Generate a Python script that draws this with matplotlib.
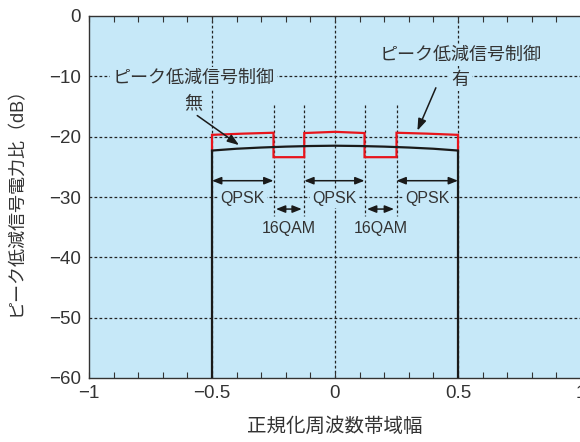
import matplotlib
matplotlib.use("Agg")
import matplotlib.pyplot as plt
from matplotlib.ticker import MultipleLocator

plt.rcParams['font.family'] = ['Liberation Sans', 'Noto Sans CJK JP', 'DejaVu Sans']
plt.rcParams['axes.unicode_minus'] = True

BG = '#c6e8f8'
TXT = '#333333'

# Band edges (normalized frequency)
band_edges = [-0.5, -0.25, -0.125, 0.12, 0.25, 0.5]

# Without peak-reduction control: smooth spectrum across the band
off_x = [-0.5, -0.5, -0.4, -0.3, -0.2, -0.1, 0.0, 0.1, 0.2, 0.3, 0.4, 0.5, 0.5]
off_y = [-60, -22.3, -22.0, -21.8, -21.65, -21.55, -21.5, -21.55, -21.65, -21.8, -22.0, -22.3, -60]

# With peak-reduction control: QPSK bands raised, 16QAM bands lowered
on_x = [-0.5, -0.5, -0.375, -0.25, -0.25, -0.125, -0.125, 0.0, 0.12, 0.12, 0.25, 0.25, 0.375, 0.5, 0.5]
on_y = [-22.3, -19.7, -19.5, -19.35, -23.4, -23.4, -19.4, -19.2, -19.4, -23.4, -23.4, -19.35, -19.5, -19.7, -22.3]

# Modulation segments
qpsk_segments = [(-0.5, -0.25), (-0.125, 0.12), (0.25, 0.5)]
qam_segments = [(-0.25, -0.125), (0.12, 0.25)]

x_ticks = [-1, -0.5, 0, 0.5, 1]
x_tick_labels = ['−1', '−0.5', '0', '0.5', '1']
y_ticks = [0, -10, -20, -30, -40, -50, -60]
y_tick_labels = ['0', '−10', '−20', '−30', '−40', '−50', '−60']

fig = plt.figure(figsize=(5.8, 4.42), dpi=100)
ax = fig.add_axes([89 / 580, 1 - 378 / 442, 492 / 580, 362 / 442])
ax.set_facecolor(BG)
ax.set_xlim(-1, 1)
ax.set_ylim(-60, 0)

# Grid
grid_kw = dict(color='#222222', lw=0.9, ls=(0, (2.2, 1.8)), zorder=1)
for yv in [-10, -20, -30, -40, -50]:
    ax.axhline(yv, **grid_kw)
for xv in [-0.5, 0, 0.5]:
    ax.axvline(xv, **grid_kw)
for xv in band_edges[1:-1]:
    ax.plot([xv, xv], [-14.8, -33.2], **grid_kw)

ax.plot(on_x, on_y, color='#e8141c', lw=1.6, zorder=3, solid_joinstyle='miter')
ax.plot(off_x, off_y, color='#1a1a1a', lw=1.6, zorder=4, solid_joinstyle='miter')

arrow_kw = dict(arrowstyle='<|-|>,head_length=0.55,head_width=0.22', color='#1a1a1a', lw=1.1,
                shrinkA=0, shrinkB=0)
label_bbox = dict(boxstyle='square,pad=0.12', fc=BG, ec='none')
for a, b in qpsk_segments:
    ax.annotate('', xy=(a, -27.3), xytext=(b, -27.3), arrowprops=arrow_kw, zorder=5)
    ax.text((a + b) / 2, -30.3, 'QPSK', ha='center', va='center', fontsize=11.5,
            color=TXT, bbox=label_bbox, zorder=5)
for a, b in qam_segments:
    ax.annotate('', xy=(a + 0.01, -32.0), xytext=(b - 0.01, -32.0), arrowprops=arrow_kw, zorder=5)
    ax.text((a + b) / 2, -35.2, '16QAM', ha='center', va='center', fontsize=11.5,
            color=TXT, bbox=label_bbox, zorder=5)

note_arrow = dict(arrowstyle='-|>,head_length=0.7,head_width=0.25', color='#1a1a1a', lw=1.1,
                  shrinkA=0, shrinkB=0)
ax.text(-0.575, -10.3, 'ピーク低減信号制御', ha='center', va='center', fontsize=13,
        color=TXT, bbox=label_bbox, zorder=5)
ax.text(-0.575, -14.5, '無', ha='center', va='center', fontsize=13, color=TXT, zorder=5)
ax.annotate('', xy=(-0.39, -21.4), xytext=(-0.56, -16.5), arrowprops=note_arrow, zorder=5)

ax.text(0.51, -6.5, 'ピーク低減信号制御', ha='center', va='center', fontsize=13,
        color=TXT, bbox=label_bbox, zorder=5)
ax.text(0.51, -10.7, '有', ha='center', va='center', fontsize=13, color=TXT,
        bbox=label_bbox, zorder=5)
ax.annotate('', xy=(0.335, -19.0), xytext=(0.41, -11.9), arrowprops=note_arrow, zorder=5)

ax.set_xticks(x_ticks)
ax.set_xticklabels(x_tick_labels)
ax.set_yticks(y_ticks)
ax.set_yticklabels(y_tick_labels)
ax.xaxis.set_minor_locator(MultipleLocator(0.1))
ax.tick_params(axis='x', which='both', direction='in', top=True, length=4, width=0.8,
               colors='#333333', labelsize=13.5, pad=5)
ax.tick_params(axis='y', which='both', direction='in', right=True, length=0,
               colors='#333333', labelsize=13.5, pad=6)
ax.tick_params(labelcolor=TXT)
for s in ax.spines.values():
    s.set_color('#333333')
    s.set_linewidth(1.0)

ax.set_xlabel('正規化周波数帯域幅', fontsize=14, color=TXT)
ax.set_ylabel('ピーク低減信号電力比（dB）', fontsize=13, color=TXT)
ax.xaxis.set_label_coords(0.5, -0.108)
ax.yaxis.set_label_coords(-0.13, 0.5)

fig.savefig('out.png', dpi=100)
